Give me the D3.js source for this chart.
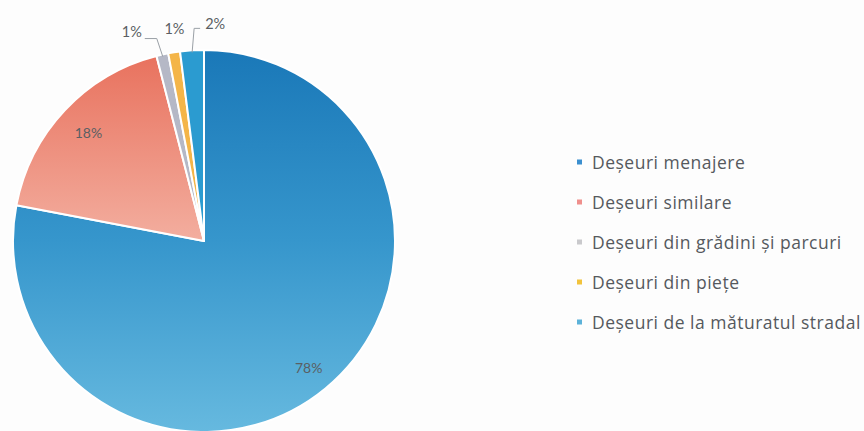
<!DOCTYPE html>
<html><head><meta charset="utf-8">
<script src="https://cdn.jsdelivr.net/npm/d3@7"></script>
<style>html,body{margin:0;padding:0;background:#fdfdfd;}svg{display:block;}</style>
</head><body>
<script>
const categories = ["Deșeuri menajere","Deșeuri similare","Deșeuri din grădini și parcuri","Deșeuri din piețe","Deșeuri de la măturatul stradal"];
const values = [78, 18, 1, 1, 2];
const valueLabels = ["78%","18%","1%","1%","2%"];
const legendColors = ["#3b8fcf","#ef8f8c","#c9c9cc","#f2c33c","#5cb2d9"];

const W = 864, H = 431;
const cx = 204, cy = 241, R = 191;
const svg = d3.select("body").append("svg").attr("width", W).attr("height", H);
svg.append("rect").attr("width", W).attr("height", H).attr("fill", "#fdfdfd");

const defs = svg.append("defs");
function grad(id, stops, y1, y2) {
  const g = defs.append("linearGradient").attr("id", id).attr("gradientUnits", "userSpaceOnUse")
    .attr("x1", 0).attr("x2", 0).attr("y1", y1).attr("y2", y2);
  stops.forEach(([o, c]) => g.append("stop").attr("offset", o).attr("stop-color", c));
}
grad("gBlue", [[0, "#1a78b8"], [0.5, "#3696cc"], [1, "#66b9df"]], -R, R);
grad("gRed", [[0, "#e8705c"], [1, "#f3ae9f"]], -R, 0);
const fills = ["url(#gBlue)", "url(#gRed)", "#b5b8c6", "#f4b548", "#2b9bd0"];

const pie = d3.pie().sort(null).value(d => d);
const arcs = pie(values);
const arc = d3.arc().innerRadius(0).outerRadius(R);
const g = svg.append("g").attr("transform", `translate(${cx},${cy})`);
g.selectAll("path.slice").data(arcs).join("path").attr("class", "slice")
  .attr("d", arc).attr("fill", (d, i) => fills[i])
  .attr("stroke", "#ffffff").attr("stroke-width", 2).attr("stroke-linejoin", "round");

const labelFont = "Lato, 'Open Sans', sans-serif";
// inner labels for large slices
const innerR = [0.86, 0.83];
g.selectAll("text.inner").data(arcs.slice(0, 2)).join("text").attr("class", "inner")
  .attr("transform", (d, i) => {
    const a = d3.arc().innerRadius(R * innerR[i]).outerRadius(R * innerR[i]);
    return `translate(${a.centroid(d)})`;
  })
  .attr("text-anchor", "middle").attr("dominant-baseline", "central")
  .attr("font-family", labelFont).attr("font-size", 14).attr("fill", "#5a5f63")
  .text((d, i) => valueLabels[i]);

// outer labels for small slices
const edge = d3.arc().innerRadius(R - 2).outerRadius(R - 2);
const small = arcs.slice(2).map((d, k) => ({ d, i: k + 2 }));
const outerSpec = [
  { dx: -6, ty: -18, hx: -12, anchor: "end", tdx: -3, tdy: -7, line: true },
  { dx: 0, ty: -26, hx: 0, anchor: "middle", tdx: 0, tdy: 0, line: false },
  { dx: 2, ty: -24, hx: 6, anchor: "start", tdx: 5, tdy: -5, line: true }
];
small.forEach((s, k) => {
  const [px, py] = edge.centroid(s.d);
  const sp = outerSpec[k];
  const ex = px + sp.dx, ey = py + sp.ty;
  if (sp.line) {
    g.append("polyline")
      .attr("points", `${px},${py} ${ex},${ey} ${ex + sp.hx},${ey}`)
      .attr("fill", "none").attr("stroke", "#9aa0a6").attr("stroke-width", 1);
  }
  g.append("text").attr("x", ex + sp.hx + sp.tdx).attr("y", ey + sp.tdy)
    .attr("text-anchor", sp.anchor).attr("dominant-baseline", "central")
    .attr("font-family", labelFont).attr("font-size", 14.5).attr("fill", "#5a5f63")
    .text(valueLabels[s.i]);
});

// legend
const ly = d3.scalePoint().domain(categories).range([162, 322]);
const leg = svg.append("g");
categories.forEach((c, i) => {
  leg.append("rect").attr("x", 577).attr("y", ly(c) - 2.5).attr("width", 5).attr("height", 5)
    .attr("fill", legendColors[i]);
  leg.append("text").attr("x", 592).attr("y", ly(c)).attr("dominant-baseline", "central")
    .attr("font-family", "'Open Sans', Lato, sans-serif").attr("font-size", 17.5)
    .attr("letter-spacing", 0.5).attr("fill", "#55595d").text(c);
});
</script>
</body></html>
